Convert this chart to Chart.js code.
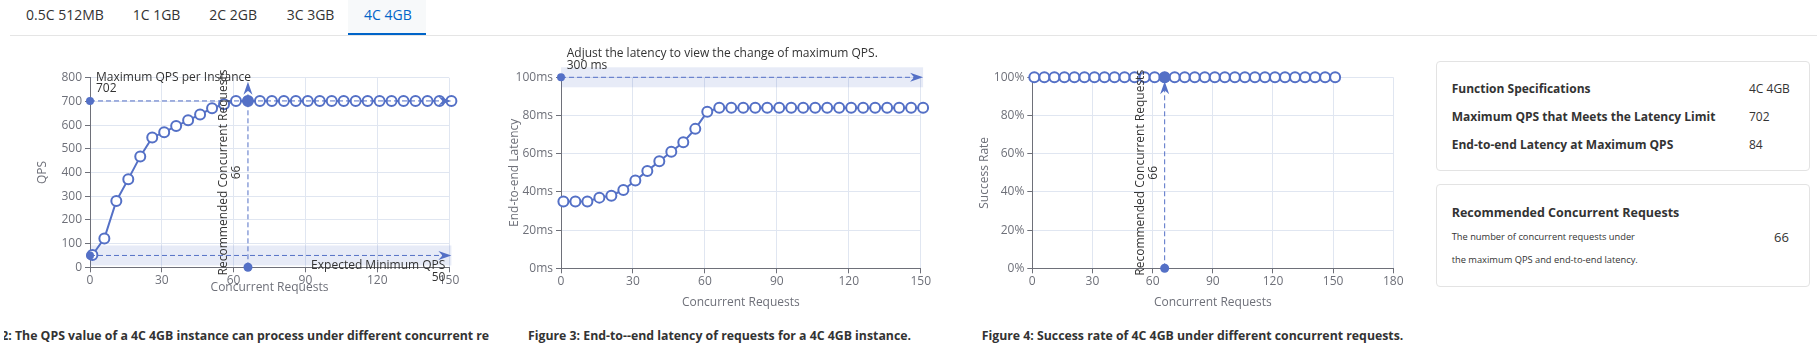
<!DOCTYPE html>
<html>
<head>
<meta charset="utf-8">
<script src="https://cdn.jsdelivr.net/npm/chart.js@4.4.0/dist/chart.umd.min.js"></script>
<style>
  body { margin: 0; width: 1817px; height: 352px; overflow: hidden; background: #fff;
         font-family: "Open Sans", sans-serif; color: #333; position: relative; }
  .abs { position: absolute; white-space: nowrap; }
  .tab { font-size: 14px; line-height: 20px; top: 4.7px; color: #333; }
  .tab.on { color: #0064c8; }
  canvas { position: absolute; top: 40px; }
  .card { position: absolute; left: 1435.5px; width: 374px; box-sizing: border-box;
          border: 1px solid #e3e3e3; border-radius: 4px; }
  .row { font-size: 12px; line-height: 20px; }
  .b { font-weight: bold; }
  .cap { position: absolute; top: 326px; width: 473px; height: 20px; line-height: 20px;
         display: flex; justify-content: center; overflow: hidden; white-space: nowrap;
         font-size: 12.3px; font-weight: bold; color: #333; }
</style>
</head>
<body>
<div class="abs" style="left:348px;top:0;width:78px;height:35px;background:#f7f9fa"></div>
<div class="abs" style="left:10px;top:35px;width:1807px;height:1px;background:#e5e5e5"></div>
<div class="abs" style="left:348px;top:33px;width:78px;height:2px;background:#0064c8"></div>
<div id="tabs"></div>

<canvas id="c1" width="490" height="280" style="left:0"></canvas>
<canvas id="c2" width="470" height="280" style="left:490px"></canvas>
<canvas id="c3" width="460" height="280" style="left:960px"></canvas>

<div class="cap" style="left:4px;width:485px"><span>Figure 2: The QPS value of a 4C 4GB instance can process under different concurrent requests.</span></div>
<div class="cap" style="left:483px"><span>Figure 3: End-to--end latency of requests for a 4C 4GB instance.</span></div>
<div class="cap" style="left:956px"><span>Figure 4: Success rate of 4C 4GB under different concurrent requests.</span></div>

<div class="card" style="top:60.5px;height:110.5px"></div>
<div class="card" style="top:184.3px;height:102.5px"></div>
<div id="info"></div>

<script>
const specs = ['0.5C 512MB', '1C 1GB', '2C 2GB', '3C 3GB', '4C 4GB'];
const activeSpec = '4C 4GB';

const concurrency = [1, 6, 11, 16, 21, 26, 31, 36, 41, 46, 51, 56, 61, 66, 71, 76,
  81, 86, 91, 96, 101, 106, 111, 116, 121, 126, 131, 136, 141, 146, 151];
const qps = [52, 122, 280, 372, 468, 548, 570, 596, 620, 645, 671, 688, 702, 702, 702, 702,
  702, 702, 702, 702, 702, 702, 702, 702, 702, 702, 702, 702, 702, 702, 702];
const latency = [35, 35, 35, 37, 38, 41, 46, 51, 56, 61, 66, 73, 82, 84, 84, 84,
  84, 84, 84, 84, 84, 84, 84, 84, 84, 84, 84, 84, 84, 84, 84];
const successRate = [100, 100, 100, 100, 100, 100, 100, 100, 100, 100, 100, 100, 100, 100, 100, 100,
  100, 100, 100, 100, 100, 100, 100, 100, 100, 100, 100, 100, 100, 100, 100];

const qpsTicks = [0, 100, 200, 300, 400, 500, 600, 700, 800];
const latencyTicks = [0, 20, 40, 60, 80, 100];
const rateTicks = [0, 20, 40, 60, 80, 100];
const xTicks = [0, 30, 60, 90, 120, 150];
const xTicksRate = [0, 30, 60, 90, 120, 150, 180];

const maxQps = 702;
const minQps = 50;
const recommended = 66;
const latencyLimit = 100;
const latencyLabel = '300 ms';
const e2eAtMax = 84;

// tabs + info panel
const tabLeft = [26, 132.7, 209.3, 286.7, 364];
document.getElementById('tabs').innerHTML = specs.map((s, i) =>
  `<div class="abs tab${s === activeSpec ? ' on' : ''}" style="left:${tabLeft[i]}px">${s}</div>`).join('');

const infoRows = [
  ['Function Specifications', activeSpec],
  ['Maximum QPS that Meets the Latency Limit', maxQps],
  ['End-to-end Latency at Maximum QPS', e2eAtMax]
];
let html = infoRows.map((r, i) =>
  `<div class="abs row b" style="left:1451.7px;top:${79 + i * 28}px">${r[0]}</div>` +
  `<div class="abs row" style="left:1749px;top:${79 + i * 28}px">${r[1]}</div>`).join('');
html += `<div class="abs b" style="left:1451.7px;top:202.7px;font-size:12.5px;line-height:20px">Recommended Concurrent Requests</div>`;
html += `<div class="abs" style="left:1451.7px;top:226.7px;font-size:9.3px;line-height:20px">The number of concurrent requests under</div>`;
html += `<div class="abs" style="left:1451.7px;top:250px;font-size:9.3px;line-height:20px">the maximum QPS and end-to-end latency.</div>`;
html += `<div class="abs" style="left:1774px;top:226.7px;font-size:13px;line-height:20px">${recommended}</div>`;
document.getElementById('info').innerHTML = html;

// charts
const blue = '#5470c6';
const axisGrey = '#6e7079';
Chart.defaults.font.family = "'Open Sans', sans-serif";
Chart.defaults.font.size = 12;
Chart.defaults.color = axisGrey;

function arrowHead(ctx, tx, ty, ang) {
  ctx.save();
  ctx.translate(tx, ty);
  ctx.rotate(ang);
  ctx.beginPath();
  ctx.moveTo(0, 0);
  ctx.lineTo(-13, -4.5);
  ctx.lineTo(-9, 0);
  ctx.lineTo(-13, 4.5);
  ctx.closePath();
  ctx.fill();
  ctx.restore();
}

function dot(ctx, x, y, r) {
  ctx.beginPath();
  ctx.arc(x, y, r, 0, Math.PI * 2);
  ctx.fill();
}

// draws the marker lines, bands and labels over a chart
function makeMarks(m) {
  return {
    id: 'marks',
    beforeDatasetsDraw(chart) {
      const { ctx, scales: { x, y } } = chart;
      ctx.save();
      ctx.fillStyle = 'rgba(84,112,198,0.14)';
      (m.bands || []).forEach(b => {
        const py = y.getPixelForValue(b.y);
        const x0 = x.getPixelForValue(b.x0), x1 = x.getPixelForValue(b.x1);
        ctx.fillRect(x0, py - 10, x1 - x0, 20);
      });
      ctx.restore();
    },
    afterDatasetsDraw(chart) {
      const { ctx, scales: { x, y } } = chart;
      ctx.save();
      ctx.strokeStyle = blue;
      ctx.fillStyle = blue;
      ctx.lineWidth = 1;
      (m.hlines || []).forEach(l => {
        const py = y.getPixelForValue(l.y);
        const x0 = x.getPixelForValue(l.x0), x1 = x.getPixelForValue(l.x1);
        ctx.setLineDash([5, 3]);
        ctx.beginPath(); ctx.moveTo(x0, py); ctx.lineTo(x1 - 8, py); ctx.stroke();
        ctx.setLineDash([]);
        dot(ctx, x0, py, 4);
        arrowHead(ctx, x1, py, 0);
      });
      (m.vlines || []).forEach(l => {
        const px = x.getPixelForValue(l.x);
        const y0 = y.getPixelForValue(l.y0), y1 = y.getPixelForValue(l.y1) + 4;
        ctx.setLineDash([5, 3]);
        ctx.beginPath(); ctx.moveTo(px, y0); ctx.lineTo(px, y1 + 8); ctx.stroke();
        ctx.setLineDash([]);
        dot(ctx, px, y0, 4.5);
        arrowHead(ctx, px, y1, -Math.PI / 2);
        if (l.text) {
          const mid = (y.getPixelForValue(l.y0) + y.getPixelForValue(l.y1)) / 2;
          ctx.save();
          ctx.translate(px, mid);
          ctx.rotate(-Math.PI / 2);
          ctx.fillStyle = '#333';
          ctx.font = "12px 'Open Sans', sans-serif";
          ctx.textAlign = 'center';
          ctx.textBaseline = 'middle';
          ctx.fillText(l.text[0], 0, -24);
          ctx.fillText(l.text[1], 0, -11.3);
          ctx.restore();
        }
      });
      (m.dots || []).forEach(d => {
        dot(ctx, x.getPixelForValue(d.x), y.getPixelForValue(d.y), 5.5);
      });
      ctx.fillStyle = '#333';
      ctx.font = "12px 'Open Sans', sans-serif";
      ctx.textBaseline = 'middle';
      (m.labels || []).forEach(t => {
        const px = x.getPixelForValue(t.x), py = y.getPixelForValue(t.y);
        ctx.textAlign = t.align;
        t.text.forEach((s, i) => ctx.fillText(s, px + t.dx, py + t.dy[i]));
      });
      ctx.restore();
    }
  };
}

function makeChart(id, ys, yTicks, xT, fmt, yTitle, box, marks) {
  return new Chart(document.getElementById(id), {
    type: 'line',
    data: {
      datasets: [{
        data: concurrency.map((c, i) => ({ x: c, y: ys[i] })),
        borderColor: blue,
        borderWidth: 2,
        pointRadius: 5,
        pointBorderWidth: 2,
        pointBorderColor: blue,
        pointBackgroundColor: '#fff',
        tension: 0,
        clip: false
      }]
    },
    options: {
      responsive: false,
      animation: false,
      events: [],
      layout: { padding: { top: box.top, right: box.right, left: 0, bottom: 0 } },
      plugins: { legend: { display: false }, tooltip: { enabled: false } },
      scales: {
        x: {
          type: 'linear',
          min: xT[0], max: xT[xT.length - 1],
          ticks: { stepSize: xT[1] - xT[0], padding: 1, color: axisGrey },
          grid: { color: '#e0e6f1', tickColor: axisGrey, tickLength: 5 },
          border: { color: axisGrey, width: 1 },
          title: { display: true, text: 'Concurrent Requests', color: axisGrey,
                   padding: { top: 0, bottom: box.xTitlePad } },
          afterFit: s => { s.height = box.xHeight; }
        },
        y: {
          min: yTicks[0], max: yTicks[yTicks.length - 1],
          ticks: { stepSize: yTicks[1] - yTicks[0], padding: 3, color: axisGrey,
                   callback: v => fmt(v) },
          grid: { color: '#e0e6f1', tickColor: axisGrey, tickLength: 5 },
          border: { color: axisGrey, width: 1 },
          title: { display: true, text: yTitle, color: axisGrey,
                   padding: { top: box.yTitlePad, bottom: 0 } },
          afterFit: s => { s.width = box.yWidth; }
        }
      }
    },
    plugins: [makeMarks(marks)]
  });
}

const lastX = concurrency[concurrency.length - 1];

makeChart('c1', qps, qpsTicks, xTicks, v => String(v), 'QPS',
  { top: 37.7, right: 41, xHeight: 52.7, xTitlePad: 24.8, yWidth: 90, yTitlePad: 35.8 },
  {
    bands: [{ y: minQps, x0: 0, x1: lastX }],
    hlines: [{ y: maxQps, x0: 0, x1: lastX }, { y: minQps, x0: 0, x1: lastX }],
    vlines: [{ x: recommended, y0: 0, y1: qpsTicks[qpsTicks.length - 1],
               text: ['Recommended Concurrent Requests', String(recommended)] }],
    dots: [{ x: recommended, y: maxQps }],
    labels: [
      { text: ['Maximum QPS per Instance', String(maxQps)], x: 0, y: maxQps, dx: 6, dy: [-23.3, -12.7], align: 'left' },
      { text: ['Expected Minimum QPS', String(minQps)], x: lastX, y: minQps, dx: -6, dy: [10, 22], align: 'right' }
    ]
  });

makeChart('c2', latency, latencyTicks, xTicks, v => v + 'ms', 'End-to-end Latency',
  { top: 37.3, right: 39.3, xHeight: 51.7, xTitlePad: 10.1, yWidth: 71, yTitlePad: 17.3 },
  {
    bands: [{ y: latencyLimit, x0: 0, x1: lastX }],
    hlines: [{ y: latencyLimit, x0: 0, x1: lastX }],
    labels: [
      { text: ['Adjust the latency to view the change of maximum QPS.', latencyLabel], x: 0, y: latencyLimit,
        dx: 5.7, dy: [-23.3, -11.3], align: 'left' }
    ]
  });

makeChart('c3', successRate, rateTicks, xTicksRate, v => v + '%', 'Success Rate',
  { top: 37.3, right: 26.7, xHeight: 51.7, xTitlePad: 10.1, yWidth: 72.3, yTitlePad: 17.8 },
  {
    vlines: [{ x: recommended, y0: 0, y1: rateTicks[rateTicks.length - 1],
               text: ['Recommended Concurrent Requests', String(recommended)] }],
    dots: [{ x: recommended, y: 100 }]
  });
</script>
</body>
</html>
